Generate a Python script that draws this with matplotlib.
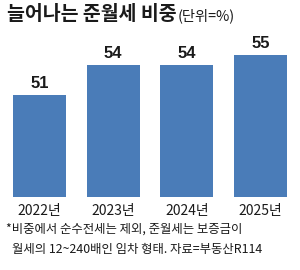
import matplotlib
matplotlib.use("Agg")
import matplotlib.pyplot as plt

years = ["2022년", "2023년", "2024년", "2025년"]
values = [51, 54, 54, 55]
title = "늘어나는 준월세 비중"
unit = "(단위=%)"
note1 = "*비중에서 순수전세는 제외, 준월세는 보증금이"
note2 = "월세의 12~240배인 임차 형태. 자료=부동산R114"

KR = ["Noto Sans CJK KR", "DejaVu Sans"]
NUM = ["Liberation Sans Narrow", "Liberation Sans", "DejaVu Sans"]
bar_color = "#4a7cb8"
txt = "#1a1a1a"

fig = plt.figure(figsize=(3.0, 2.7), dpi=100)
ax = fig.add_axes([13/300, 1-197/270, 274/300, 142/270])
x = list(range(len(values)))
ax.bar(x, values, width=0.72, color=bar_color)
ax.set_xlim(-0.36, 3.36)
ax.set_ylim(40.7, 55)
ax.axis("off")
for xi, v in zip(x, values):
    ax.annotate(str(v), (xi, v), xytext=(0, 3), textcoords="offset points",
                ha="center", va="bottom", fontsize=12, fontweight="bold",
                family=NUM, color=txt, annotation_clip=False)
for xi, lab in zip(x, years):
    ax.annotate(lab, (xi, 40.7), xytext=(0, -5), textcoords="offset points",
                ha="center", va="top", fontsize=10, family=KR, color=txt,
                annotation_clip=False)

t = fig.text(7/300, 1-15/270, title, fontsize=14, fontweight="bold",
             family=KR, color=txt, va="center", ha="left")
fig.canvas.draw()
bb = t.get_window_extent()
fig.text(bb.x1/300 + 0.003, 1-16/270, unit, fontsize=10.3, family=KR,
         color=txt, va="center", ha="left")
fig.text(6/300, 1-229/270, note1, fontsize=8.9, family=KR, color=txt,
         va="center", ha="left")
fig.text(12/300, 1-250/270, note2, fontsize=8.9, family=KR, color=txt,
         va="center", ha="left")
fig.savefig("out.png", dpi=100)
